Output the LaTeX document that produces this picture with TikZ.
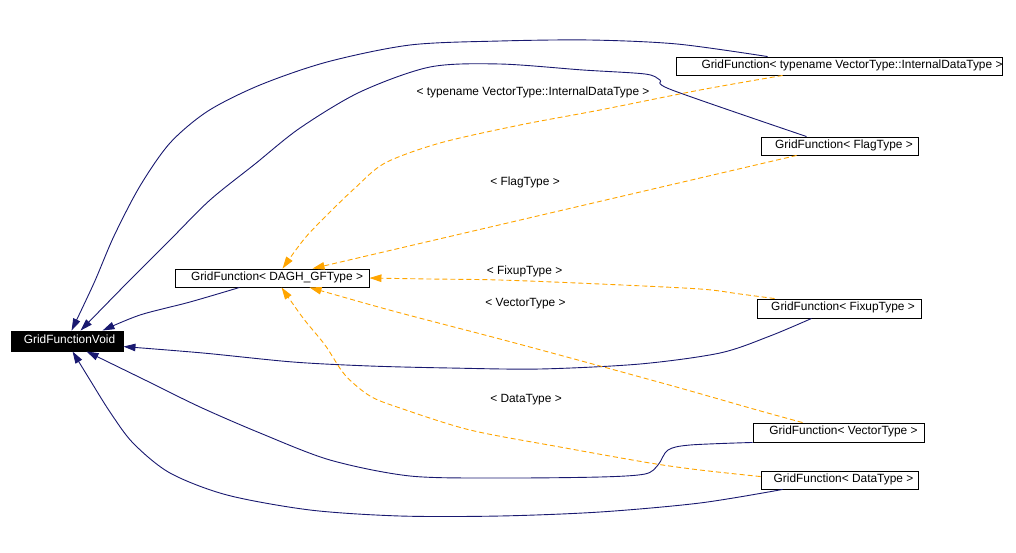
\documentclass[tikz,border=0pt]{standalone}
\usepackage{fontspec}
\setmainfont{Liberation Sans}
\usetikzlibrary{arrows.meta,calc}
\definecolor{navyblue}{RGB}{25,25,112}
\definecolor{tmplorange}{RGB}{255,165,0}
\newcommand{\shtext}[2]{\makebox[0pt]{\hspace*{#1}#2}}
\begin{document}
\begin{tikzpicture}[x=1pt,y=-1pt,
  every node/.style={font=\fontsize{11.9}{14}\selectfont},
  cls/.style={draw=black, line width=0.9pt, fill=white, rectangle, inner sep=0pt, text height=9pt, text depth=5pt},
  rootcls/.style={cls, fill=black, text=white},
  inh/.style={draw=navyblue, line width=0.9pt, -{Triangle[length=12pt,width=7.5pt]}},
  tmpl/.style={draw=tmplorange, line width=0.9pt, dash pattern=on 5pt off 3pt, -{Triangle[length=12pt,width=7.5pt]}},
  elabel/.style={anchor=base, inner sep=0pt}
]
\useasboundingbox (0,0) rectangle (1016,552);

% nodes
\node[rootcls, minimum width=112pt, minimum height=20pt] (void) at (67,341) {\shtext{5pt}{GridFunctionVoid}};
\node[cls, minimum width=194pt, minimum height=18pt] (dagh) at (272,278) {\shtext{10pt}{GridFunction< DAGH\_GFType >}};
\node[cls, minimum width=326pt, minimum height=18pt] (internal) at (839,66) {\shtext{26pt}{GridFunction< typename VectorType::InternalDataType >}};
\node[cls, minimum width=157pt, minimum height=18pt] (flag) at (839.5,146) {\shtext{9pt}{GridFunction< FlagType >}};
\node[cls, minimum width=164pt, minimum height=19pt] (fixup) at (839,308.5) {\shtext{8pt}{GridFunction< FixupType >}};
\node[cls, minimum width=171pt, minimum height=19pt] (vector) at (838.5,432.5) {\shtext{10pt}{GridFunction< VectorType >}};
\node[cls, minimum width=157pt, minimum height=18pt] (data) at (839.5,480) {\shtext{8pt}{GridFunction< DataType >}};

% connector end points
\coordinate (e1s) at ($(internal.north west)+(92,0)$);
\coordinate (e1t) at ($(void.north west)+(61,0)$);
\coordinate (e2s) at ($(flag.north west)+(46,0)$);
\coordinate (e2t) at ($(void.north west)+(70,0)$);
\coordinate (e3s) at ($(dagh.south west)+(65,0)$);
\coordinate (e3t) at ($(void.north west)+(92,0)$);
\coordinate (e4s) at ($(fixup.south west)+(55,0)$);
\coordinate (e4t) at ($(void.north east)+(0,16)$);
\coordinate (e5s) at (vector.south west);
\coordinate (e5t) at ($(void.south west)+(76,0)$);
\coordinate (e6s) at ($(data.south west)+(22,0)$);
\coordinate (e6t) at ($(void.south west)+(62,0)$);

\coordinate (oas) at ($(internal.south west)+(107,0)$);
\coordinate (oat) at ($(dagh.north west)+(108,0)$);
\coordinate (obs) at ($(flag.south west)+(36,0)$);
\coordinate (obt) at ($(dagh.north west)+(138,0)$);
\coordinate (ocs) at ($(fixup.north west)+(18,0)$);
\coordinate (oct) at (dagh.east);
\coordinate (ods) at ($(vector.north west)+(50,0)$);
\coordinate (odt) at ($(dagh.south west)+(135,0)$);
\coordinate (oes) at ($(data.north west)+(0,6)$);
\coordinate (oet) at ($(dagh.south west)+(107,0)$);

% inheritance (navy)
\draw[inh] plot[smooth] coordinates {(e1s) (677,44) (590,40) (500,41) (410,45) (327,62) (260,85) (208,111) (170,143) (140,186) (114,236) (94,283) (e1t)};
\draw[inh] plot[smooth] coordinates {(e2s) (672,90) (660,80) (645,74) (583,70) (500,64) (430,67) (360,92) (300,128) (255,164) (210,200) (170,240) (127,283) (e2t)};
\draw[inh] plot[smooth] coordinates {(e3s) (190,302) (140,315) (e3t)};
\draw[inh] plot[smooth] coordinates {(e4s) (770,336) (720,353) (640,364) (540,369) (450,368) (370,366) (293,362) (203,353) (e4t)};
\draw[inh] plot[smooth] coordinates {(e5s) (690,445) (668,450) (658,465) (645,474) (600,477) (500,478) (410,476) (330,460) (260,433) (200,407) (145,380) (e5t)};
\draw[inh] plot[smooth] coordinates {(e6s) (700,503) (600,512) (500,516) (400,516) (310,510) (227,495) (170,473) (133,443) (110,412) (90,380) (e6t)};

% template instantiation (orange, dashed)
\draw[tmpl] plot[smooth] coordinates {(oas) (700,90) (600,110) (520,125) (440,143) (385,163) (355,188) (330,212) (305,238) (oat)};
\draw[tmpl] (obs) -- (obt);
\draw[tmpl] plot[smooth] coordinates {(ocs) (740,294) (700,289) (600,284) (500,280) (430,279) (oct)};
\draw[tmpl] plot[smooth] coordinates {(ods) (757,410) (680,388) (600,366) (500,339) (393,311) (odt)};
\draw[tmpl] plot[smooth] coordinates {(oes) (700,470) (650,463) (560,447) (470,430) (400,408) (370,396) (345,375) (325,345) (303,318) (oet)};

% labels
\node[elabel] (lint) at (533,95) {< typename VectorType::InternalDataType >};
\node[elabel] (lflag) at (525,185) {< FlagType >};
\node[elabel] (lfix) at (524.5,274) {< FixupType >};
\node[elabel] (lvec) at (525.5,306) {< VectorType >};
\node[elabel] (ldat) at (526,402) {< DataType >};
\end{tikzpicture}
\end{document}
